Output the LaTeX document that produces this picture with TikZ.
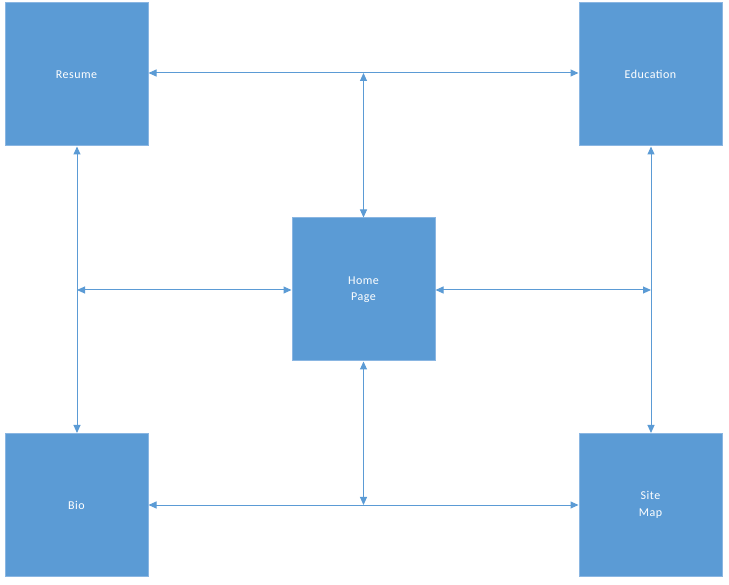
\documentclass[tikz,border=0pt]{standalone}
\usepackage{fontspec}
\setmainfont{Carlito}[LetterSpace=4]
\usetikzlibrary{arrows.meta}
\definecolor{boxblue}{HTML}{5B9BD5}
\definecolor{boxedge}{HTML}{8AB6E2}
\definecolor{linkblue}{HTML}{5B9BD5}
\begin{document}
\begin{tikzpicture}[x=1pt,y=-1pt,
  page/.style={draw=boxedge,line width=1pt,fill=boxblue,minimum width=143pt,minimum height=143pt,
    inner sep=0pt,text=white,align=center,font=\fontsize{12}{16.5}\selectfont},
  link/.style={draw=linkblue,line width=1pt,{Triangle[length=8pt,width=7pt]}-{Triangle[length=8pt,width=7pt]}}]
\useasboundingbox (0,0) rectangle (729,585);
\node[page] (resume) at (76.5,74.5) {Resume};
\node[page] (edu) at (650.5,74.5) {Education};
\node[page] (home) at (363.5,289.5) {Home\\Page};
\node[page] (bio) at (76.5,505) {Bio};
\node[page] (map) at (650.5,505) {Site\\Map};
\coordinate (jt) at (363.5,73);
\coordinate (jl) at (77,290);
\coordinate (jr) at (651,290);
\coordinate (jb) at (363.5,505);
\draw[link] (resume.east |- jt) -- (edu.west |- jt);
\draw[link] (jt) -- (home.north);
\draw[link] (resume.south -| jl) -- (bio.north -| jl);
\draw[link] (jl) -- (home.west |- jl);
\draw[link] (edu.south -| jr) -- (map.north -| jr);
\draw[link] (home.east |- jr) -- (jr);
\draw[link] (bio.east) -- (map.west);
\draw[link] (home.south) -- (jb);
\end{tikzpicture}
\end{document}
